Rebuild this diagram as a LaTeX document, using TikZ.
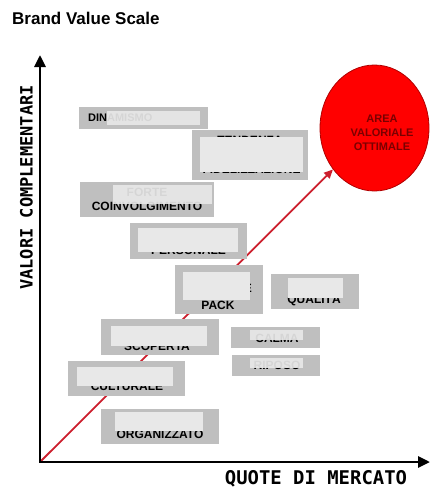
\documentclass[tikz,border=0pt]{standalone}
\usepackage{fontspec}
\setmainfont{Liberation Sans}
\newfontfamily\axisfont{DejaVu Sans Mono}
\usetikzlibrary{arrows.meta,shapes.geometric}
\definecolor{boxgray}{HTML}{BFBFBF}
\definecolor{innergray}{HTML}{E8E8E8}
\definecolor{arrowred}{HTML}{CC1F2D}
\definecolor{circred}{HTML}{FF0000}
\definecolor{circedge}{HTML}{B00000}
\definecolor{areatext}{HTML}{7A0000}
\begin{document}
\begin{tikzpicture}[x=1pt,y=-1pt,
  outerbox/.style={fill=boxgray},
  innerbox/.style={fill=innergray},
  ghostbox/.style={fill=innergray, fill opacity=0.92},
  lbl/.style={inner sep=0pt, font=\bfseries\fontsize{12}{12}\selectfont, text=black, text height=8.6pt, text depth=0pt},
  axislbl/.style={inner sep=0pt, text=black, text depth=0pt},
  axisline/.style={line width=2.8pt, {Triangle[length=12pt,width=11pt]}-{Triangle[length=12pt,width=11pt]}},
  redarrow/.style={draw=arrowred, line width=1.8pt, -{Triangle[length=9pt,width=8pt]}}]
\useasboundingbox (0,0) rectangle (431,488);

% title
\node[anchor=west, inner sep=0pt, font=\bfseries\fontsize{17}{17}\selectfont, text height=12.2pt, text depth=0pt] (title) at (12,18.5) {Brand Value Scale};

% axes coordinates
\coordinate (O) at (40,462);
\coordinate (ytip) at (40,55);
\coordinate (xtip) at (430,462);

% optimal area
\node[ellipse, draw=circedge, fill=circred, line width=0.8pt, minimum width=109pt, minimum height=126pt, inner sep=0pt] (area) at (374.5,128) {};
\node[align=center, font=\bfseries\fontsize{11}{14}\selectfont, text=areatext, inner sep=0pt] (areatxt) at (382,133) {AREA\\VALORIALE\\OTTIMALE};

% red arrow
\draw[redarrow] (O) -- (area);

% DINAMISMO
\fill[outerbox] (79,107) rectangle (208,129);
\node[lbl, anchor=west, font=\bfseries\fontsize{11}{11}\selectfont, text height=7.9pt] (din) at (88,118) {DINAMISMO};
\fill[ghostbox] (107,111) rectangle (200,125);

% box 2
\fill[outerbox] (192,130) rectangle (308,180);
\node[lbl] (tend) at (250,140.5) {TENDENZA};
\node[lbl] (fid) at (251.5,169.5) {FIDELIZZAZIONE};
\fill[innerbox] (200,137) rectangle (303,172);

% FORTE COINVOLGIMENTO
\fill[outerbox] (80,182) rectangle (214,217);
\node[lbl] (forte) at (147,192) {FORTE};
\node[lbl] (coinv) at (147,206.5) {COINVOLGIMENTO};
\fill[ghostbox] (113,185) rectangle (212,203.5);

% PERSONALE
\fill[outerbox] (130,223) rectangle (247,259);
\node[lbl] (pers) at (188.5,250) {PERSONALE};
\fill[innerbox] (138,228) rectangle (238,252);

% PACK
\fill[outerbox] (175,265) rectangle (263,314);
\node[lbl, anchor=east] (design) at (252,288) {DESIGN E};
\node[lbl] (pack) at (218,305.5) {PACK};
\fill[innerbox] (183,272) rectangle (250,300);

% QUALITA
\fill[outerbox] (271,274) rectangle (359,309);
\node[lbl] (qual) at (314,299.5) {QUALITÀ};
\fill[innerbox] (288,278) rectangle (343,298);

% SCOPERTA
\fill[outerbox] (101,319) rectangle (219,355);
\node[lbl] (scop) at (157,346.5) {SCOPERTA};
\fill[innerbox] (111,326) rectangle (207,346);

% CALMA
\fill[outerbox] (231,327) rectangle (320,348);
\node[lbl] (calma) at (277,338.5) {CALMA};
\fill[ghostbox] (250,330) rectangle (303,340);

% RIPOSO
\fill[outerbox] (232,355) rectangle (320,376);
\node[lbl] (riposo) at (277,365.5) {RIPOSO};
\fill[ghostbox] (250,358) rectangle (303,368);

% CULTURALE
\fill[outerbox] (68,361) rectangle (185,396);
\node[lbl] (cult) at (127,386.5) {CULTURALE};
\fill[innerbox] (77,367) rectangle (173,386);

% ORGANIZZATO
\fill[outerbox] (101,409) rectangle (219,444);
\node[lbl] (org) at (160,434) {ORGANIZZATO};
\fill[innerbox] (115,412) rectangle (203,431);

% axes
\draw[axisline] (ytip) -- (O) -- (xtip);
\node[axislbl, font=\axisfont\bfseries\fontsize{18.9}{19}\selectfont, text height=13.8pt] (xlab) at (316,478) {QUOTE DI MERCATO};
\node[axislbl, rotate=90, font=\axisfont\bfseries\fontsize{17}{17}\selectfont, text height=12.4pt] (ylab) at (26.5,187.5) {VALORI COMPLEMENTARI};
\end{tikzpicture}
\end{document}
